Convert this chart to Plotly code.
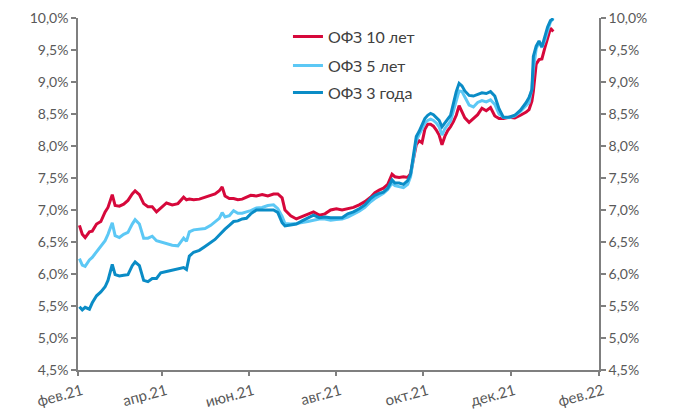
import pandas as pd
import plotly.graph_objects as go

dates = [
    "2021-02-02", "2021-02-04", "2021-02-06", "2021-02-09", "2021-02-11", "2021-02-14",
    "2021-02-17", "2021-02-20", "2021-02-22", "2021-02-25", "2021-02-27", "2021-03-02",
    "2021-03-05", "2021-03-08", "2021-03-11", "2021-03-13", "2021-03-16", "2021-03-19",
    "2021-03-22", "2021-03-25", "2021-03-28", "2021-03-31", "2021-04-04", "2021-04-08",
    "2021-04-12", "2021-04-16", "2021-04-18", "2021-04-20", "2021-04-23", "2021-04-27",
    "2021-05-01", "2021-05-05", "2021-05-08", "2021-05-11", "2021-05-13", "2021-05-15",
    "2021-05-18", "2021-05-21", "2021-05-24", "2021-05-27", "2021-05-30", "2021-06-02",
    "2021-06-06", "2021-06-10", "2021-06-14", "2021-06-18", "2021-06-21", "2021-06-24",
    "2021-06-26", "2021-06-30", "2021-07-04", "2021-07-08", "2021-07-12", "2021-07-16",
    "2021-07-20", "2021-07-24", "2021-07-28", "2021-08-01", "2021-08-05", "2021-08-09",
    "2021-08-13", "2021-08-17", "2021-08-21", "2021-08-25", "2021-08-28", "2021-08-31",
    "2021-09-03", "2021-09-06", "2021-09-09", "2021-09-11", "2021-09-14", "2021-09-17",
    "2021-09-20", "2021-09-22", "2021-09-24", "2021-09-26", "2021-09-28", "2021-09-30",
    "2021-10-02", "2021-10-04", "2021-10-06", "2021-10-08", "2021-10-10", "2021-10-12",
    "2021-10-14", "2021-10-16", "2021-10-18", "2021-10-20", "2021-10-22", "2021-10-24",
    "2021-10-26", "2021-10-28", "2021-10-30", "2021-11-02", "2021-11-05", "2021-11-08",
    "2021-11-11", "2021-11-14", "2021-11-17", "2021-11-20", "2021-11-23", "2021-11-26",
    "2021-11-30", "2021-12-04", "2021-12-08", "2021-12-12", "2021-12-14", "2021-12-16",
    "2021-12-17", "2021-12-19", "2021-12-21", "2021-12-23", "2021-12-25", "2021-12-27",
    "2021-12-29", "2021-12-31",
]

ofz_10y = [
    6.76, 6.62, 6.57, 6.66, 6.67, 6.78, 6.82, 6.97, 7.04, 7.24, 7.07, 7.06,
    7.09, 7.15, 7.25, 7.30, 7.24, 7.10, 7.05, 7.05, 6.97, 7.03, 7.11, 7.08,
    7.10, 7.20, 7.16, 7.17, 7.16, 7.17, 7.20, 7.23, 7.25, 7.30, 7.36, 7.22,
    7.18, 7.18, 7.16, 7.17, 7.20, 7.23, 7.22, 7.24, 7.22, 7.25, 7.25, 7.19,
    7.00, 6.91, 6.86, 6.90, 6.94, 6.97, 6.92, 6.94, 7.00, 7.02, 7.00, 7.02,
    7.04, 7.08, 7.13, 7.20, 7.27, 7.31, 7.34, 7.40, 7.56, 7.52, 7.51, 7.52,
    7.51, 7.57, 7.78, 8.02, 8.08, 8.05, 8.26, 8.34, 8.34, 8.31, 8.25, 8.17,
    8.02, 8.15, 8.24, 8.30, 8.38, 8.48, 8.63, 8.52, 8.44, 8.37, 8.43, 8.49,
    8.59, 8.55, 8.60, 8.47, 8.43, 8.43, 8.45, 8.44, 8.48, 8.53, 8.57, 8.70,
    8.85, 9.28, 9.35, 9.36, 9.53, 9.68, 9.84, 9.79,
]

ofz_5y = [
    6.24, 6.14, 6.12, 6.22, 6.26, 6.35, 6.44, 6.52, 6.62, 6.80, 6.60, 6.57,
    6.62, 6.65, 6.78, 6.85, 6.78, 6.56, 6.56, 6.59, 6.52, 6.50, 6.48, 6.45,
    6.44, 6.56, 6.51, 6.66, 6.69, 6.70, 6.71, 6.76, 6.81, 6.87, 6.96, 6.89,
    6.91, 6.99, 6.95, 6.95, 6.97, 6.99, 7.03, 7.04, 7.07, 7.08, 7.02, 6.90,
    6.79, 6.78, 6.79, 6.80, 6.82, 6.84, 6.86, 6.86, 6.84, 6.85, 6.86, 6.89,
    6.93, 6.98, 7.04, 7.13, 7.18, 7.22, 7.26, 7.32, 7.42, 7.38, 7.37, 7.35,
    7.40, 7.52, 7.80, 8.08, 8.18, 8.28, 8.36, 8.40, 8.42, 8.40, 8.36, 8.30,
    8.17, 8.27, 8.33, 8.39, 8.55, 8.72, 8.86, 8.85, 8.76, 8.64, 8.61, 8.68,
    8.71, 8.69, 8.72, 8.65, 8.50, 8.45, 8.44, 8.47, 8.54, 8.63, 8.68, 8.90,
    9.20, 9.52, 9.62, 9.54, 9.65, 9.80, 9.94, 10.00,
]

ofz_3y = [
    5.49, 5.44, 5.48, 5.45, 5.55, 5.66, 5.72, 5.80, 5.90, 6.15, 5.99, 5.97,
    5.98, 5.99, 6.13, 6.19, 6.13, 5.90, 5.88, 5.93, 5.93, 6.02, 6.04, 6.06,
    6.07, 6.10, 6.07, 6.28, 6.34, 6.37, 6.43, 6.49, 6.54, 6.61, 6.66, 6.70,
    6.76, 6.82, 6.83, 6.86, 6.87, 6.94, 7.00, 7.00, 6.99, 7.00, 6.96, 6.80,
    6.75, 6.76, 6.78, 6.83, 6.88, 6.92, 6.88, 6.89, 6.88, 6.88, 6.88, 6.94,
    6.97, 7.02, 7.08, 7.18, 7.23, 7.26, 7.28, 7.34, 7.47, 7.42, 7.42, 7.40,
    7.46, 7.56, 7.89, 8.15, 8.23, 8.33, 8.43, 8.48, 8.51, 8.49, 8.44, 8.40,
    8.30, 8.37, 8.42, 8.48, 8.66, 8.85, 8.98, 8.94, 8.86, 8.79, 8.78, 8.80,
    8.83, 8.82, 8.85, 8.78, 8.58, 8.45, 8.45, 8.48, 8.56, 8.68, 8.76, 8.88,
    9.40, 9.56, 9.64, 9.55, 9.70, 9.86, 9.96, 9.99,
]

series_names = ["ОФЗ 10 лет", "ОФЗ 5 лет", "ОФЗ 3 года"]
series_colors = ["#D6083B", "#5CC8F5", "#0A8CC6"]

x_tickvals = ["2021-02-01", "2021-04-01", "2021-06-01", "2021-08-01",
              "2021-10-01", "2021-12-01", "2022-02-01"]
x_ticktext = ["фев.21", "апр.21", "июн.21", "авг.21", "окт.21", "дек.21", "фев.22"]

y_tickvals = [4.5, 5.0, 5.5, 6.0, 6.5, 7.0, 7.5, 8.0, 8.5, 9.0, 9.5, 10.0]
y_ticktext = [f"{v:.1f}%".replace(".", ",") for v in y_tickvals]

x = pd.to_datetime(dates)
fig = go.Figure()
data = [ofz_10y, ofz_5y, ofz_3y]
legends = ["legend", "legend2", "legend3"]
for i, (name, vals, col) in enumerate(zip(series_names, data, series_colors)):
    fig.add_trace(go.Scatter(
        x=x, y=vals, name=name, mode="lines",
        line=dict(color=col, width=3),
        yaxis="y2" if i == 2 else "y",
        legend=legends[i],
    ))

font_family = "Lato, 'Open Sans', sans-serif"
text_col = "#595959"
axis_col = "#7F7F7F"

yaxis_common = dict(
    range=[4.5, 10.0], tickmode="array", tickvals=y_tickvals, ticktext=y_ticktext,
    showgrid=False, zeroline=False, showline=True, linecolor=axis_col, linewidth=1.5,
    ticks="outside", ticklen=5, tickcolor=axis_col, tickwidth=1.5,
    tickfont=dict(family=font_family, size=14, color=text_col),
    automargin=False,
)

leg_common = dict(
    font=dict(family=font_family, size=16, color="#404040"),
    bgcolor="rgba(0,0,0,0)", xanchor="left", yanchor="middle", x=0.403,
)

fig.update_layout(
    width=679, height=412,
    margin=dict(l=78, r=80, t=18, b=42),
    paper_bgcolor="white", plot_bgcolor="white",
    xaxis=dict(
        type="date", range=["2021-02-01", "2022-02-01"],
        tickmode="array", tickvals=x_tickvals, ticktext=x_ticktext,
        tickangle=-15, showgrid=False, zeroline=False,
        showline=True, linecolor=axis_col, linewidth=1.5,
        ticks="outside", ticklen=4, tickcolor=axis_col, tickwidth=1.5,
        tickfont=dict(family=font_family, size=15, color=text_col),
        ticklabelstandoff=1, ticklabelshift=4,
        automargin=False,
    ),
    yaxis=dict(side="left", **yaxis_common),
    yaxis2=dict(side="right", overlaying="y", anchor="x", **yaxis_common),
    legend=dict(y=0.947, **leg_common),
    legend2=dict(y=0.8645, **leg_common),
    legend3=dict(y=0.788, **leg_common),
    showlegend=True,
)

fig.write_html("out.html", config={"displayModeBar": False},
               post_script="document.body.style.margin='0';")
